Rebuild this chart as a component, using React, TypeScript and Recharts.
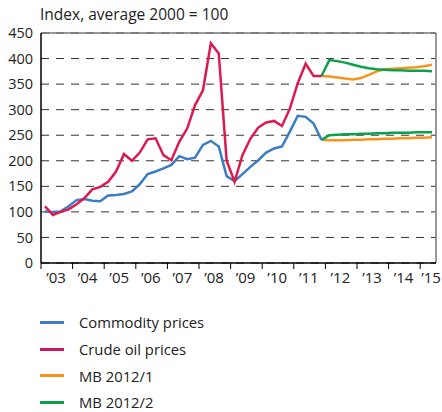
import { LineChart, Line, XAxis, YAxis, CartesianGrid, ReferenceLine } from 'recharts';

// quarterly observations, plotted at mid-quarter
const years = [2003, 2004, 2005, 2006, 2007, 2008, 2009, 2010, 2011, 2012, 2013, 2014, 2015];
const yearLabels = ['’03', '’04', '’05', '’06', '’07', '’08', '’09', '’10', '’11', '’12', '’13', '’14', '’15'];
const yTicks = [0, 50, 100, 150, 200, 250, 300, 350, 400, 450];

// outcomes 2003Q1 - 2011Q4
const commodity = [
    101, 100, 101, 111, 123, 125, 122, 121, 132, 133, 135, 140,
    154, 174, 179, 185, 192, 209, 203, 206, 231, 239, 228, 170,
    160, 174, 188, 201, 216, 224, 228, 257, 288, 286, 273, 241,
];
const crudeOil = [
    111, 94, 100, 105, 115, 127, 144, 149, 159, 179, 213, 200,
    216, 242, 244, 211, 201, 237, 263, 309, 338, 430, 410, 200,
    159, 211, 243, 265, 275, 278, 268, 302, 352, 390, 366, 366,
];

// forecasts 2011Q4 - 2015Q2
const forecastStart = 35;
const mb1Commodity = [241, 240, 240, 240, 241, 241, 242, 242, 243, 243, 244, 244, 245, 245, 246];
const mb1Crude = [366, 365, 363, 361, 359, 362, 368, 375, 379, 380, 381, 382, 383, 385, 388];
const mb2Commodity = [241, 250, 251, 252, 252, 253, 253, 254, 254, 255, 255, 255, 256, 256, 256];
const mb2Crude = [366, 397, 395, 392, 388, 384, 381, 379, 378, 377, 377, 376, 376, 376, 375];

const colors = {
    commodity: '#3b7cc4',
    crude: '#dd1a4e',
    mb1: '#f7941e',
    mb2: '#0ba14b',
};

const FONT = '"Open Sans", sans-serif';

const quarterTimes: number[] = [];
years.forEach(y => {
    [0, 1, 2, 3].forEach(q => {
        const t = y + (q + 0.5) / 4;
        if (t < 2015.5) quarterTimes.push(t);
    });
});

const fc = (arr: number[], i: number) =>
    i >= forecastStart && i - forecastStart < arr.length ? arr[i - forecastStart] : null;

const chartData = quarterTimes.map((t, i) => ({
    t,
    commodity: commodity[i] ?? null,
    crude: crudeOil[i] ?? null,
    mb1Commodity: fc(mb1Commodity, i),
    mb1Crude: fc(mb1Crude, i),
    mb2Commodity: fc(mb2Commodity, i),
    mb2Crude: fc(mb2Crude, i),
}));

const legendItems = [
    { name: 'Commodity prices', color: colors.commodity },
    { name: 'Crude oil prices', color: '#c8175d' },
    { name: 'MB 2012/1', color: colors.mb1 },
    { name: 'MB 2012/2', color: colors.mb2 },
];

const YearTick = (props: any) => {
    const { x, y, payload } = props;
    const idx = years.indexOf(payload.value);
    return (
        <text x={Math.min(x + 15, 431)} y={y} dy="0.71em" textAnchor="middle" fill="#222" fontSize={15} fontFamily={FONT}>
            {yearLabels[idx]}
        </text>
    );
};

export default function App() {
    return (
        <div className="wrap">
            <div className="title">Index, average 2000 = 100</div>
            <LineChart width={442} height={412} data={chartData} margin={{ top: 33, right: 6, left: 0, bottom: 119 }}>
                <CartesianGrid horizontal vertical={false} stroke="#333" strokeDasharray="8 7" />
                <XAxis
                    dataKey="t"
                    type="number"
                    domain={[2003, 2015.5]}
                    ticks={years}
                    height={30}
                    axisLine={{ stroke: '#000', strokeWidth: 1.5 }}
                    tickLine={{ stroke: '#000' }}
                    tickSize={6}
                    tickMargin={3}
                    tick={<YearTick />}
                    interval={0}
                />
                <YAxis
                    domain={[0, 450]}
                    ticks={yTicks}
                    width={41}
                    axisLine={{ stroke: '#000', strokeWidth: 1.5 }}
                    tickLine={false}
                    tick={{ fill: '#222', fontSize: 14.5, fontFamily: FONT }}
                    interval={0}
                />
                <ReferenceLine y={450} stroke="#777" strokeWidth={1.5} />
                <ReferenceLine x={2015.5} stroke="#777" strokeWidth={1.5} />
                <Line dataKey="mb1Commodity" stroke={colors.mb1} strokeWidth={2.5} dot={false} isAnimationActive={false} />
                <Line dataKey="mb1Crude" stroke={colors.mb1} strokeWidth={2.5} dot={false} isAnimationActive={false} />
                <Line dataKey="mb2Commodity" stroke={colors.mb2} strokeWidth={2.5} dot={false} isAnimationActive={false} />
                <Line dataKey="mb2Crude" stroke={colors.mb2} strokeWidth={2.5} dot={false} isAnimationActive={false} />
                <Line dataKey="commodity" stroke={colors.commodity} strokeWidth={2.5} dot={false} isAnimationActive={false} />
                <Line dataKey="crude" stroke={colors.crude} strokeWidth={2.5} dot={false} isAnimationActive={false} />
            </LineChart>
            <div className="legend">
                {legendItems.map(item => (
                    <div className="legend-item" key={item.name}>
                        <span className="swatch" style={{ background: item.color }} />
                        <span>{item.name}</span>
                    </div>
                ))}
            </div>

            <style>{`
        body { margin: 0; }
        .wrap {
          position: relative;
          width: 442px;
          height: 412px;
          background: #fff;
          font-family: ${FONT};
          color: #222;
        }
        .title {
          position: absolute;
          left: 40px;
          top: 3px;
          font-size: 15.5px;
        }
        .legend {
          position: absolute;
          left: 40px;
          top: 309px;
        }
        .legend-item {
          display: flex;
          align-items: center;
          height: 26.7px;
          font-size: 14.8px;
        }
        .swatch {
          display: inline-block;
          width: 24px;
          height: 3px;
          margin-right: 15px;
        }
      `}</style>
        </div>
    );
}
